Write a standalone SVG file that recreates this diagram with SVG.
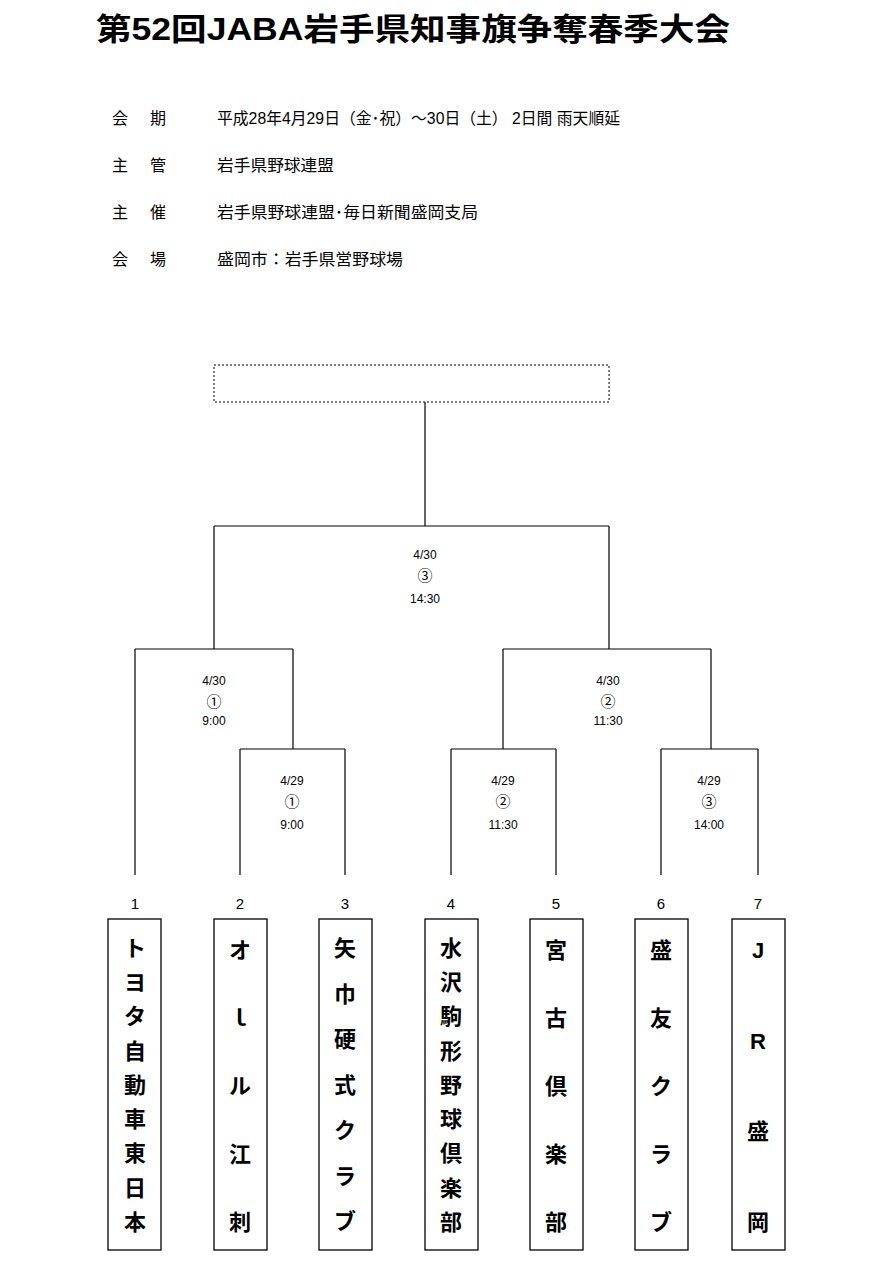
<svg xmlns="http://www.w3.org/2000/svg" width="889" height="1280" viewBox="0 0 889 1280">
<style>
text{font-family:"Liberation Sans","Noto Sans CJK JP",sans-serif;fill:#000}
.t{font-size:31px;font-weight:bold}
.i{font-size:16px}
.m{font-size:12px;text-anchor:middle}
.n{font-size:15px;text-anchor:middle}
.tm{font-size:22px;font-weight:bold;text-anchor:middle;dominant-baseline:central}
.b{fill:#fff;stroke:#000;stroke-width:1.3}
.c line{stroke:#000;stroke-width:1.2}
</style>
<rect width="889" height="1280" fill="#fff"/>
<text class="t" x="96" y="40" textLength="634" lengthAdjust="spacingAndGlyphs">第52回JABA岩手県知事旗争奪春季大会</text>
<g>
<text class="i" x="112" y="124">会</text><text class="i" x="150" y="124">期</text><text class="i" x="217" y="124" textLength="403" lengthAdjust="spacingAndGlyphs">平成28年4月29日（金･祝）～30日（土） 2日間  雨天順延</text>
<text class="i" x="112" y="171">主</text><text class="i" x="150" y="171">管</text><text class="i" x="217" y="171" textLength="117" lengthAdjust="spacingAndGlyphs">岩手県野球連盟</text>
<text class="i" x="112" y="218">主</text><text class="i" x="150" y="218">催</text><text class="i" x="217" y="218" textLength="261" lengthAdjust="spacingAndGlyphs">岩手県野球連盟･毎日新聞盛岡支局</text>
<text class="i" x="112" y="265">会</text><text class="i" x="150" y="265">場</text><text class="i" x="217" y="265" textLength="186" lengthAdjust="spacingAndGlyphs">盛岡市：岩手県営野球場</text>
</g>
<g id="champion"><rect x="214" y="365" width="395" height="37" fill="none" stroke="#000" stroke-dasharray="2,2"/></g>
<g class="c" id="connectors">
<line x1="425" y1="402" x2="425" y2="526"/>
<line x1="214" y1="526" x2="609" y2="526"/>
<line x1="214" y1="526" x2="214" y2="649"/>
<line x1="609" y1="526" x2="609" y2="649"/>
<line x1="135" y1="649" x2="293" y2="649"/>
<line x1="135" y1="649" x2="135" y2="875"/>
<line x1="293" y1="649" x2="293" y2="749"/>
<line x1="503" y1="649" x2="711" y2="649"/>
<line x1="503" y1="649" x2="503" y2="749"/>
<line x1="711" y1="649" x2="711" y2="749"/>
<line x1="240" y1="749" x2="345" y2="749"/>
<line x1="240" y1="749" x2="240" y2="875"/>
<line x1="345" y1="749" x2="345" y2="875"/>
<line x1="451" y1="749" x2="556" y2="749"/>
<line x1="451" y1="749" x2="451" y2="875"/>
<line x1="556" y1="749" x2="556" y2="875"/>
<line x1="661" y1="749" x2="758" y2="749"/>
<line x1="661" y1="749" x2="661" y2="875"/>
<line x1="758" y1="749" x2="758" y2="875"/>
</g>
<g id="labels">
<text class="m" x="425" y="559">4/30</text><text class="n" x="425" y="581">③</text><text class="m" x="425" y="603">14:30</text>
<text class="m" x="214" y="685">4/30</text><text class="n" x="214" y="707">①</text><text class="m" x="214" y="725">9:00</text>
<text class="m" x="608" y="685">4/30</text><text class="n" x="608" y="707">②</text><text class="m" x="608" y="725">11:30</text>
<text class="m" x="292" y="785">4/29</text><text class="n" x="292" y="807">①</text><text class="m" x="292" y="829">9:00</text>
<text class="m" x="503" y="785">4/29</text><text class="n" x="503" y="807">②</text><text class="m" x="503" y="829">11:30</text>
<text class="m" x="709" y="785">4/29</text><text class="n" x="709" y="807">③</text><text class="m" x="709" y="829">14:00</text>
</g>
<g id="team1"><text class="n" x="135" y="909">1</text><rect class="b" x="108" y="919" width="53" height="331"/>
<text class="tm" x="135" y="948">ト</text><text class="tm" x="135" y="982">ヨ</text><text class="tm" x="135" y="1016">タ</text><text class="tm" x="135" y="1051">自</text><text class="tm" x="135" y="1085">動</text><text class="tm" x="135" y="1119">車</text><text class="tm" x="135" y="1153">東</text><text class="tm" x="135" y="1188">日</text><text class="tm" x="135" y="1222">本</text></g>
<g id="team2"><text class="n" x="240" y="909">2</text><rect class="b" x="214" y="919" width="53" height="331"/>
<text class="tm" x="240" y="950">オ</text><text class="tm" x="240" y="1018">ｌ</text><text class="tm" x="240" y="1086">ル</text><text class="tm" x="240" y="1154">江</text><text class="tm" x="240" y="1222">刺</text></g>
<g id="team3"><text class="n" x="345" y="909">3</text><rect class="b" x="319" y="919" width="53" height="331"/>
<text class="tm" x="345" y="948">矢</text><text class="tm" x="345" y="994">巾</text><text class="tm" x="345" y="1039">硬</text><text class="tm" x="345" y="1085">式</text><text class="tm" x="345" y="1130">ク</text><text class="tm" x="345" y="1176">ラ</text><text class="tm" x="345" y="1221">ブ</text></g>
<g id="team4"><text class="n" x="451" y="909">4</text><rect class="b" x="425" y="919" width="53" height="331"/>
<text class="tm" x="451" y="948">水</text><text class="tm" x="451" y="982">沢</text><text class="tm" x="451" y="1016">駒</text><text class="tm" x="451" y="1051">形</text><text class="tm" x="451" y="1085">野</text><text class="tm" x="451" y="1119">球</text><text class="tm" x="451" y="1153">倶</text><text class="tm" x="451" y="1188">楽</text><text class="tm" x="451" y="1222">部</text></g>
<g id="team5"><text class="n" x="556" y="909">5</text><rect class="b" x="530" y="919" width="53" height="331"/>
<text class="tm" x="556" y="950">宮</text><text class="tm" x="556" y="1018">古</text><text class="tm" x="556" y="1086">倶</text><text class="tm" x="556" y="1154">楽</text><text class="tm" x="556" y="1222">部</text></g>
<g id="team6"><text class="n" x="661" y="909">6</text><rect class="b" x="635" y="919" width="53" height="331"/>
<text class="tm" x="661" y="950">盛</text><text class="tm" x="661" y="1018">友</text><text class="tm" x="661" y="1086">ク</text><text class="tm" x="661" y="1154">ラ</text><text class="tm" x="661" y="1222">ブ</text></g>
<g id="team7"><text class="n" x="758" y="909">7</text><rect class="b" x="732" y="919" width="53" height="331"/>
<text class="tm" x="758" y="950">J</text><text class="tm" x="758" y="1041">R</text><text class="tm" x="758" y="1131">盛</text><text class="tm" x="758" y="1222">岡</text></g>
</svg>
